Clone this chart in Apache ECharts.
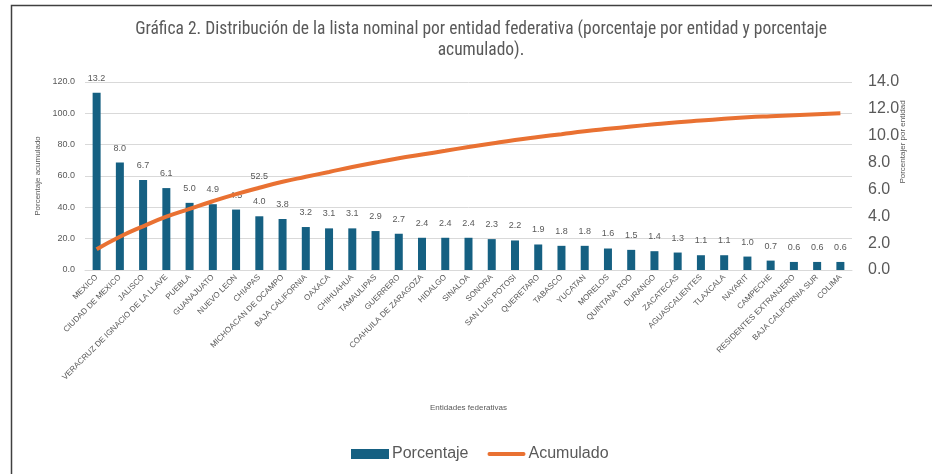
<!DOCTYPE html>
<html>
<head>
<meta charset="utf-8">
<script src="https://cdn.jsdelivr.net/npm/echarts@6/dist/echarts.min.js"></script>
<style>
  html, body { margin: 0; padding: 0; background: #fff; }
  #chart { width: 932px; height: 474px; }
</style>
</head>
<body>
<div id="chart"></div>
<script>
// entidades federativas
const entidades = [
  'MEXICO', 'CIUDAD DE MEXICO', 'JALISCO', 'VERACRUZ DE IGNACIO DE LA LLAVE', 'PUEBLA',
  'GUANAJUATO', 'NUEVO LEON', 'CHIAPAS', 'MICHOACAN DE OCAMPO', 'BAJA CALIFORNIA',
  'OAXACA', 'CHIHUAHUA', 'TAMAULIPAS', 'GUERRERO', 'COAHUILA DE ZARAGOZA',
  'HIDALGO', 'SINALOA', 'SONORA', 'SAN LUIS POTOSI', 'QUERETARO',
  'TABASCO', 'YUCATAN', 'MORELOS', 'QUINTANA ROO', 'DURANGO',
  'ZACATECAS', 'AGUASCALIENTES', 'TLAXCALA', 'NAYARIT', 'CAMPECHE',
  'RESIDENTES EXTRANJERO', 'BAJA CALIFORNIA SUR', 'COLIMA'
];
// porcentaje por entidad
const porcentaje = [
  13.2, 8.0, 6.7, 6.1, 5.0, 4.9, 4.5, 4.0, 3.8, 3.2,
  3.1, 3.1, 2.9, 2.7, 2.4, 2.4, 2.4, 2.3, 2.2, 1.9,
  1.8, 1.8, 1.6, 1.5, 1.4, 1.3, 1.1, 1.1, 1.0, 0.7,
  0.6, 0.6, 0.6
];
// porcentaje acumulado
const acumulado = [
  13.2, 21.2, 27.9, 34.0, 39.0, 43.9, 48.4, 52.5, 56.3, 59.5,
  62.6, 65.7, 68.6, 71.3, 73.7, 76.1, 78.5, 80.8, 83.0, 84.9,
  86.7, 88.5, 90.1, 91.6, 93.0, 94.3, 95.4, 96.5, 97.5, 98.2,
  98.8, 99.4, 100.0
];
// ticks
const ticksAcum = [0, 120, 20];
const ticksPorc = [0, 14, 2];
// la única etiqueta visible de la línea
const etiquetaAcum = 'CHIAPAS';

const chart = echarts.init(document.getElementById('chart'));

const gris = '#595959';
const fuente = "'Liberation Sans', Arial, sans-serif";

const option = {
  backgroundColor: '#fff',
  textStyle: { fontFamily: fuente },
  title: {
    text: 'Gráfica 2. Distribución de la lista nominal por entidad federativa (porcentaje por entidad y porcentaje\nacumulado).',
    left: 476,
    textAlign: 'center',
    top: 14,
    textStyle: {
      fontFamily: "'Liberation Sans Narrow', 'Roboto Condensed', 'Liberation Sans', sans-serif",
      fontSize: 17.5, fontWeight: 'normal', color: gris, lineHeight: 21
    }
  },
  graphic: [
    {
      type: 'polyline',
      shape: { points: [[11.5, 500], [11.5, 5.5], [940, 5.5]] },
      style: { stroke: '#404040', lineWidth: 1.5, fill: null }
    },
    {
      type: 'text',
      x: 903, y: 142,
      rotation: Math.PI / 2,
      style: {
        text: 'Porcentajer por entidad', fill: gris, fontSize: 8,
        fontFamily: fuente, align: 'center', verticalAlign: 'middle'
      }
    }
  ],
  legend: {
    bottom: 7,
    left: 346,
    itemGap: 19,
    itemWidth: 38,
    itemHeight: 10,
    textStyle: { fontSize: 16, color: gris, padding: [0, 0, 0, -2] },
    data: [
      { name: 'Porcentaje', icon: 'rect' },
      { name: 'Acumulado', icon: 'path://M2,0 L38,0 A2,2 0 0 1 38,4 L2,4 A2,2 0 0 1 2,0 Z' }
    ]
  },
  grid: { left: 85, right: 80, top: 82, bottom: 204 },
  xAxis: {
    type: 'category',
    data: entidades,
    name: 'Entidades federativas',
    nameLocation: 'middle',
    nameGap: 134,
    nameTextStyle: { fontSize: 8, color: gris },
    axisTick: { show: false },
    axisLine: { lineStyle: { color: '#d9d9d9' } },
    axisLabel: { interval: 0, rotate: 45, fontSize: 8, color: gris, margin: 6 }
  },
  yAxis: [
    {
      type: 'value',
      min: ticksAcum[0], max: ticksAcum[1], interval: ticksAcum[2],
      name: 'Porcentaje acumulado',
      nameLocation: 'middle',
      nameGap: 32,
      nameTextStyle: { fontSize: 8, color: gris },
      axisLabel: { fontSize: 9, color: gris, formatter: v => v.toFixed(1), margin: 10 },
      splitLine: { lineStyle: { color: '#d9d9d9' } }
    },
    {
      type: 'value',
      min: ticksPorc[0], max: ticksPorc[1], interval: ticksPorc[2],
      position: 'right',
      axisLabel: { fontSize: 16, color: gris, formatter: v => v.toFixed(1), margin: 16 },
      splitLine: { show: false }
    }
  ],
  series: [
    {
      name: 'Porcentaje',
      type: 'bar',
      yAxisIndex: 1,
      data: porcentaje,
      barWidth: 8,
      itemStyle: { color: '#156082' },
      label: {
        show: true, position: 'top', distance: 10, fontSize: 9, color: gris,
        formatter: p => p.value.toFixed(1)
      }
    },
    {
      name: 'Acumulado',
      type: 'line',
      yAxisIndex: 0,
      data: acumulado.map((v, i) => ({
        value: v,
        label: { show: entidades[i] === etiquetaAcum }
      })),
      smooth: true,
      symbol: 'circle',
      symbolSize: 0,
      lineStyle: { color: '#E97132', width: 4 },
      itemStyle: { color: '#E97132' },
      label: {
        position: 'top', distance: 7, fontSize: 9, color: gris,
        formatter: p => p.value.toFixed(1)
      }
    }
  ]
};

chart.setOption(option);
</script>
</body>
</html>
